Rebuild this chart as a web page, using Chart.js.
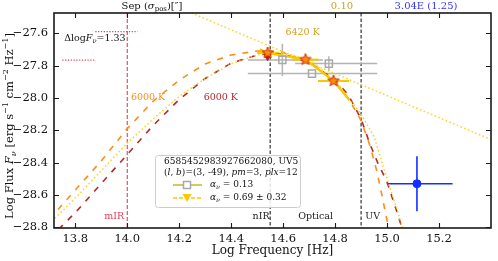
<!DOCTYPE html>
<html><head><meta charset="utf-8">
<script src="https://cdn.jsdelivr.net/npm/chart.js@4"></script>
<style>html,body{margin:0;padding:0;background:#fff}</style>
</head><body>
<canvas id="c" width="498" height="261"></canvas>
<script>
// ---------- data ----------
const xTicks = [13.8, 14.0, 14.2, 14.4, 14.6, 14.8, 15.0, 15.2];
const yTicks = [-28.8, -28.6, -28.4, -28.2, -28.0, -27.8, -27.6];

const bbOrangeX = [13.70,13.80,13.90,14.00,14.10,14.20,14.30,14.40,14.50,14.55,14.60,14.70,14.80,14.85,14.90,14.935,14.96,14.98,15.00,15.01];
const bbOrangeY = [-28.75,-28.57,-28.39,-28.19,-28.02,-27.89,-27.79,-27.735,-27.71,-27.71,-27.72,-27.78,-27.90,-28.00,-28.14,-28.30,-28.45,-28.60,-28.76,-28.86];

const bbRedX = [13.70,13.80,13.90,14.00,14.10,14.20,14.30,14.40,14.50,14.55,14.60,14.70,14.80,14.85,14.90,14.935,14.965,15.00,15.04,15.07];
const bbRedY = [-28.87,-28.71,-28.53,-28.35,-28.17,-28.01,-27.88,-27.785,-27.735,-27.725,-27.73,-27.78,-27.89,-27.98,-28.13,-28.29,-28.405,-28.52,-28.715,-28.87];

const bbGoldX = [13.70,13.80,13.90,14.00,14.10,14.20,14.30,14.40,14.50,14.55,14.60,14.70,14.80,14.86,14.90,14.95,15.00,15.06,15.07];
const bbGoldY = [-28.78,-28.62,-28.45,-28.28,-28.13,-27.99,-27.88,-27.79,-27.735,-27.72,-27.72,-27.765,-27.89,-28.02,-28.10,-28.24,-28.50,-28.80,-28.86];

const powerLawX = [14.247, 15.403];
const powerLawY = [-27.475, -28.26];

const sedX = [14.540, 14.686, 14.794];
const sedY = [-27.722, -27.763, -27.895];
const sedXErr = [0.04, 0.05, 0.06];

const fitX = [14.51, 14.540, 14.686, 14.794, 14.855];
const fitY = [-27.70, -27.722, -27.763, -27.895, -28.015];

const triX = [14.540];
const triY = [-27.745];

const sqX = [14.597, 14.776, 14.711];
const sqY = [-27.765, -27.788, -27.850];
const sqXMin = [14.464, 14.646, 14.464];
const sqXMax = [14.753, 14.962, 14.962];
const sqYErr = [0.10, 0.046, 0.0];

const uvX = [15.115];
const uvY = [-28.531];
const uvXMin = [14.999];
const uvXMax = [15.252];
const uvYErr = [0.17];

const bandEdges = [14.0, 14.55, 14.9];
const bandNames = ['mIR', 'nIR', 'Optical', 'UV'];
const bandLabelX = [13.95, 14.515, 14.725, 14.945];
const bandLabelY = -28.735;

const deltaX = [[13.877, 14.04], [13.75, 13.877]];
const deltaY = [-27.59, -27.767];

// ---------- helpers ----------
const SERIF = '"DejaVu Serif", "Liberation Serif", serif';
const pts = (xs, ys) => xs.map((x, i) => ({x, y: ys[i]}));
const fmt = v => (v < 0 ? '\u2212' : '') + Math.abs(v).toFixed(1);

function rich(ctx, parts, x, y, size, color, align) {
  const fontFor = st => {
    const small = st.includes('sub') || st.includes('sup');
    const s = small ? size * 0.7 : size;
    return (st.startsWith('i') ? 'italic ' : '') + s + 'px ' + SERIF;
  };
  let w = 0;
  for (const [t, st] of parts) { ctx.font = fontFor(st); w += ctx.measureText(t).width; }
  let cx = align === 'center' ? x - w / 2 : x;
  ctx.fillStyle = color; ctx.textBaseline = 'middle'; ctx.textAlign = 'left';
  for (const [t, st] of parts) {
    ctx.font = fontFor(st);
    const dy = st.includes('sub') ? size * 0.3 : st.includes('sup') ? -size * 0.38 : 0;
    ctx.fillText(t, cx, y + dy);
    cx += ctx.measureText(t).width;
  }
}

function starImage() {
  const c = document.createElement('canvas');
  c.width = 14; c.height = 14;
  const g = c.getContext('2d');
  g.beginPath();
  for (let i = 0; i < 10; i++) {
    const r = i % 2 === 0 ? 6 : 2.6;
    const a = -Math.PI / 2 + i * Math.PI / 5;
    const px = 7 + r * Math.cos(a), py = 7 + r * Math.sin(a);
    i === 0 ? g.moveTo(px, py) : g.lineTo(px, py);
  }
  g.closePath();
  g.fillStyle = '#ff8c00'; g.fill();
  g.lineWidth = 1; g.strokeStyle = '#d42a10'; g.stroke();
  return c;
}

const deco = {
  id: 'deco',
  beforeDatasetsDraw(chart) {
    const {ctx, chartArea: a, scales: {x, y}} = chart;
    ctx.save();
    ctx.beginPath(); ctx.rect(a.left, a.top, a.width, a.height); ctx.clip();
    bandEdges.forEach((v, i) => {
      ctx.beginPath();
      ctx.strokeStyle = i === 0 ? '#e0405a' : '#222';
      ctx.lineWidth = 1.1;
      ctx.setLineDash(i === 0 ? [4, 2] : [3.5, 2]);
      const px = x.getPixelForValue(v);
      ctx.moveTo(px, a.top); ctx.lineTo(px, a.bottom); ctx.stroke();
    });
    ctx.setLineDash([]);
    ctx.strokeStyle = '#e0405a'; ctx.lineWidth = 1.2; ctx.setLineDash([1.2, 1.6]);
    deltaX.forEach((r, i) => {
      ctx.beginPath();
      ctx.moveTo(x.getPixelForValue(r[0]), y.getPixelForValue(deltaY[i]));
      ctx.lineTo(x.getPixelForValue(r[1]), y.getPixelForValue(deltaY[i]));
      ctx.stroke();
    });
    ctx.setLineDash([]);
    bandNames.forEach((n, i) => {
      ctx.font = '9.5px ' + SERIF; ctx.textAlign = 'center'; ctx.textBaseline = 'middle';
      ctx.fillStyle = i === 0 ? '#e0405a' : '#222';
      ctx.fillText(n, x.getPixelForValue(bandLabelX[i]), y.getPixelForValue(bandLabelY));
    });
    const tl = (t, xv, yv, col) => { ctx.font = '9.5px ' + SERIF; ctx.textAlign = 'center'; ctx.textBaseline = 'middle'; ctx.fillStyle = col; ctx.fillText(t, x.getPixelForValue(xv), y.getPixelForValue(yv)); };
    tl('6000 K', 14.08, -27.995, '#ff8c1a');
    tl('6000 K', 14.36, -27.995, '#b22a2a');
    tl('6420 K', 14.675, -27.594, '#d4a020');
    rich(ctx, [['\u0394log', 'n'], ['F', 'i'], ['\u03bd', 'isub'], ['=1.33', 'n']], x.getPixelForValue(13.757), y.getPixelForValue(-27.632), 9.5, '#111', 'left');
    ctx.strokeStyle = '#b4b4b4'; ctx.lineWidth = 1.5;
    sqX.forEach((v, i) => {
      const cx = x.getPixelForValue(v), cy = y.getPixelForValue(sqY[i]);
      ctx.beginPath();
      ctx.moveTo(x.getPixelForValue(sqXMin[i]), cy); ctx.lineTo(x.getPixelForValue(sqXMax[i]), cy);
      if (sqYErr[i] > 0) { ctx.moveTo(cx, y.getPixelForValue(sqY[i] + sqYErr[i])); ctx.lineTo(cx, y.getPixelForValue(sqY[i] - sqYErr[i])); }
      ctx.stroke();
    });
    ctx.strokeStyle = '#f5c800'; ctx.lineWidth = 2;
    sedX.forEach((v, i) => {
      const cy = y.getPixelForValue(sedY[i]);
      ctx.beginPath();
      ctx.moveTo(x.getPixelForValue(v - sedXErr[i]), cy); ctx.lineTo(x.getPixelForValue(v + sedXErr[i]), cy);
      ctx.stroke();
    });
    ctx.strokeStyle = '#1030ff'; ctx.lineWidth = 1.6;
    uvX.forEach((v, i) => {
      const cx = x.getPixelForValue(v), cy = y.getPixelForValue(uvY[i]);
      ctx.beginPath();
      ctx.moveTo(x.getPixelForValue(uvXMin[i]), cy); ctx.lineTo(x.getPixelForValue(uvXMax[i]), cy);
      ctx.moveTo(cx, y.getPixelForValue(uvY[i] + uvYErr[i])); ctx.lineTo(cx, y.getPixelForValue(uvY[i] - uvYErr[i]));
      ctx.stroke();
    });
    ctx.restore();
  },
  afterDatasetsDraw(chart) {
    const {ctx, chartArea: a, scales: {x, y}} = chart;
    ctx.save();
    ctx.strokeStyle = '#1a1a1a'; ctx.lineWidth = 1.6;
    ctx.strokeRect(a.left, a.top, a.width, a.height);
    ctx.lineWidth = 1.1;
    ctx.beginPath();
    xTicks.forEach(v => {
      const px = Math.round(x.getPixelForValue(v)) + 0.5;
      ctx.moveTo(px, a.bottom); ctx.lineTo(px, a.bottom - 5);
      ctx.moveTo(px, a.top); ctx.lineTo(px, a.top + 5);
    });
    yTicks.forEach(v => {
      const py = Math.round(y.getPixelForValue(v)) + 0.5;
      ctx.moveTo(a.left, py); ctx.lineTo(a.left + 5, py);
      ctx.moveTo(a.right, py); ctx.lineTo(a.right - 5, py);
    });
    ctx.stroke();
    rich(ctx, [['Sep (', 'n'], ['\u03c3', 'i'], ['pos', 'sub'], [')[\u2033]', 'n']], 152, 6, 10, '#111', 'center');
    ctx.font = '10px ' + SERIF; ctx.textAlign = 'center'; ctx.textBaseline = 'middle';
    ctx.fillStyle = '#c9a227'; ctx.fillText('0.10', 342, 6);
    ctx.fillStyle = '#3535f5'; ctx.fillText('3.04E (1.25)', 426, 6);
    ctx.save();
    ctx.translate(10, 126); ctx.rotate(-Math.PI / 2);
    rich(ctx, [['Log Flux ', 'n'], ['F', 'i'], ['\u03bd', 'isub'], [' [erg s', 'n'], ['\u22121', 'sup'], [' cm', 'n'], ['\u22122', 'sup'], [' Hz', 'n'], ['\u22121', 'sup'], [']', 'n']], 0, 0, 11.5, '#111', 'center');
    ctx.restore();
    const L = 155, T = 155, R = 300, B = 207;
    ctx.beginPath();
    ctx.roundRect(L + 0.5, T + 0.5, R - L, B - T, 3);
    ctx.fillStyle = 'rgba(255,255,255,0.85)'; ctx.fill();
    ctx.strokeStyle = '#cccccc'; ctx.lineWidth = 1; ctx.stroke();
    ctx.font = '9px ' + SERIF; ctx.fillStyle = '#111'; ctx.textAlign = 'left'; ctx.textBaseline = 'middle';
    ctx.fillText('6585452983927662080, UV5', 164, 162);
    rich(ctx, [['(', 'n'], ['l', 'i'], [', ', 'n'], ['b', 'i'], [')=(3, -49), ', 'n'], ['pm', 'i'], ['=3, ', 'n'], ['plx', 'i'], ['=12', 'n']], 164, 173, 9, '#111', 'left');
    ctx.strokeStyle = '#bcbd22'; ctx.lineWidth = 1.5;
    ctx.beginPath(); ctx.moveTo(173, 185); ctx.lineTo(202, 185); ctx.stroke();
    ctx.fillStyle = '#fff'; ctx.fillRect(183.5, 181.5, 7, 7);
    ctx.strokeStyle = '#a9a9a9'; ctx.strokeRect(183.5, 181.5, 7, 7);
    rich(ctx, [['\u03b1', 'i'], ['\u03bd', 'isub'], [' = 0.13', 'n']], 210, 185, 9, '#111', 'left');
    ctx.strokeStyle = '#ffc800'; ctx.lineWidth = 1.5; ctx.setLineDash([4, 2]);
    ctx.beginPath(); ctx.moveTo(173, 198); ctx.lineTo(202, 198); ctx.stroke();
    ctx.setLineDash([]);
    ctx.fillStyle = '#ffc800';
    ctx.beginPath(); ctx.moveTo(182.5, 194); ctx.lineTo(191.5, 194); ctx.lineTo(187, 202); ctx.closePath(); ctx.fill();
    rich(ctx, [['\u03b1', 'i'], ['\u03bd', 'isub'], [' = 0.69 \u00b1 0.32', 'n']], 210, 198, 9, '#111', 'left');
    ctx.restore();
  }
};

const line = (xs, ys, color, dash, width, order) => ({
  data: pts(xs, ys), showLine: true, pointRadius: 0, borderColor: color,
  borderDash: dash, borderWidth: width, fill: false, order
});

new Chart(document.getElementById('c'), {
  type: 'scatter',
  data: {
    datasets: [
      line(powerLawX, powerLawY, '#ffd21a', [1.5, 2.5], 1.5, 9),
      line(bbOrangeX, bbOrangeY, '#ff8c1a', [6, 7], 1.6, 8),
      line(bbRedX, bbRedY, '#b22a2a', [6, 7], 1.6, 7),
      line(bbGoldX, bbGoldY, '#ffd21a', [1.5, 2.5], 1.5, 6),
      line(fitX, fitY, '#f5c800', [], 2.2, 5),
      {data: pts(sqX, sqY), pointStyle: 'rect', pointRadius: 5, borderColor: '#a9a9a9', borderWidth: 1.5, backgroundColor: 'rgba(0,0,0,0)', order: 4},
      {data: pts(triX, triY), pointStyle: 'triangle', rotation: 180, pointRadius: 4, backgroundColor: '#b22222', borderColor: '#b22222', order: 3},
      {data: pts(sedX, sedY), pointStyle: starImage(), pointRadius: 6, order: 2},
      {data: pts(uvX, uvY), pointStyle: 'circle', pointRadius: 4, backgroundColor: '#1030ff', borderColor: '#1030ff', order: 1}
    ]
  },
  options: {
    responsive: false, animation: false, devicePixelRatio: 1,
    layout: {padding: {top: 13, right: 2, left: 0, bottom: 0}},
    plugins: {legend: {display: false}, tooltip: {enabled: false}},
    scales: {
      x: {
        type: 'linear', min: 13.718, max: 15.4,
        afterBuildTicks: s => { s.ticks = xTicks.map(v => ({value: v})); },
        afterFit: s => { s.height = 33; },
        grid: {display: false, drawTicks: false}, border: {display: false},
        ticks: {padding: 4, color: '#111', font: {family: SERIF, size: 11.5}, callback: v => fmt(v), maxRotation: 0},
        title: {display: true, text: 'Log Frequency [Hz]', color: '#111', font: {family: SERIF, size: 12}, padding: {top: 0, bottom: 3}}
      },
      y: {
        type: 'linear', min: -28.805, max: -27.475,
        afterBuildTicks: s => { s.ticks = yTicks.map(v => ({value: v})); },
        afterFit: s => { s.width = 54; },
        grid: {display: false, drawTicks: false}, border: {display: false},
        ticks: {padding: 6, color: '#111', font: {family: SERIF, size: 11.5}, callback: v => fmt(v)}
      }
    }
  },
  plugins: [deco]
});
</script>
</body></html>
